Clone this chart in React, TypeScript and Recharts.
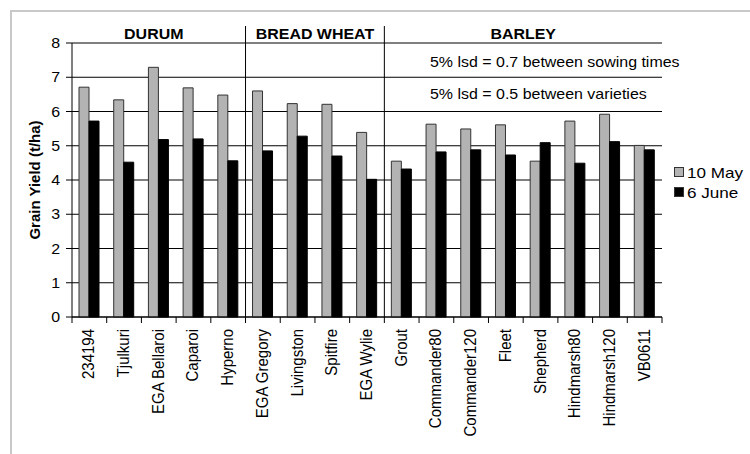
import { BarChart, Bar, XAxis, YAxis, CartesianGrid } from 'recharts';

const varieties = [
  '234194', 'Tjulkuri', 'EGA Bellaroi', 'Caparoi', 'Hyperno',
  'EGA Gregory', 'Livingston', 'Spitfire', 'EGA Wylie',
  'Grout', 'Commander80', 'Commander120', 'Fleet', 'Shepherd',
  'Hindmarsh80', 'Hindmarsh120', 'VB0611',
];
const may10 = [6.71, 6.34, 7.29, 6.69, 6.48, 6.6, 6.23, 6.21, 5.39, 4.55, 5.63, 5.49, 5.61, 4.55, 5.72, 5.92, 5.01];
const june6 = [5.72, 4.52, 5.18, 5.2, 4.56, 4.85, 5.28, 4.7, 4.02, 4.32, 4.82, 4.88, 4.73, 5.09, 4.49, 5.12, 4.88];
const groupNames = ['DURUM', 'BREAD WHEAT', 'BARLEY'];
const groupSizes = [5, 4, 8];
const yTicks = [0, 1, 2, 3, 4, 5, 6, 7, 8];
const lsdNotes = ['5% lsd = 0.7 between sowing times', '5% lsd = 0.5 between varieties'];
const seriesNames = ['10 May', '6 June'];

const data = varieties.map((name, i) => ({ name, may: may10[i], june: june6[i] }));

const W = 750;
const H = 454;
const MARGIN = { top: 43, right: 88, left: 12, bottom: 0 };
const Y_AXIS_W = 60;
const X_AXIS_H = 137;
const AXIS_Y = H - MARGIN.bottom - X_AXIS_H;
const PLOT_W = W - MARGIN.left - MARGIN.right - Y_AXIS_W;
const SX = 1.14; // the source image is stretched sideways
const FONT = '"Liberation Sans", Arial, sans-serif';
const GRAY = '#b3b3b3';

// group start index -> group number
const groupStarts: Record<number, number> = {};
groupSizes.reduce((start, size, g) => {
  groupStarts[start] = g;
  return start + size;
}, 0);

function XTick(props: any) {
  const { x, payload, index } = props;
  const half = payload?.offset ?? PLOT_W / varieties.length / 2;
  const left = x - half;
  const g = groupStarts[index];
  return (
    <g>
      <line x1={left} x2={left} y1={AXIS_Y} y2={AXIS_Y + 6} stroke="#000" />
      {index === varieties.length - 1 && (
        <line x1={x + half} x2={x + half} y1={AXIS_Y} y2={AXIS_Y + 6} stroke="#000" />
      )}
      {g !== undefined && g > 0 && (
        <line x1={left} x2={left} y1={26} y2={AXIS_Y} stroke="#000" />
      )}
      {g !== undefined && (
        <text
          transform={`translate(${left + groupSizes[g] * half - (g === 0 ? 5 : 0)},39) scale(${SX},1)`}
          textAnchor="middle" fontSize={14} fontWeight="bold" fontFamily={FONT} fill="#000"
        >
          {groupNames[g]}
        </text>
      )}
      <text
        transform={`translate(${x + 5},${AXIS_Y + 12}) scale(${SX},1) rotate(-90)`}
        textAnchor="end" fontSize={15} fontFamily={FONT} fill="#000"
      >
        {payload.value}
      </text>
    </g>
  );
}

function YTick(props: any) {
  const { x, y, payload } = props;
  return (
    <text
      transform={`translate(${x},${y + 5}) scale(${SX},1)`}
      textAnchor="end" fontSize={14} fontFamily={FONT} fill="#000"
    >
      {payload.value}
    </text>
  );
}

function LegendBox() {
  const fills = [GRAY, '#000'];
  return (
    <div style={{ position: 'absolute', left: 674, top: 162, fontFamily: FONT, fontSize: 15, color: '#000' }}>
      {seriesNames.map((s, i) => (
        <div key={s} style={{ display: 'flex', alignItems: 'center', height: 20 }}>
          <span
            style={{
              width: 8, height: 8, background: fills[i], border: '1px solid #333',
              marginRight: 3, display: 'inline-block',
            }}
          />
          <span style={{ display: 'inline-block', transform: `scaleX(${SX})`, transformOrigin: 'left center' }}>{s}</span>
        </div>
      ))}
    </div>
  );
}

export default function App() {
  return (
    <div style={{ position: 'fixed', left: 0, top: 0, width: W, height: H, background: '#fff', overflow: 'hidden' }}>
      <div
        style={{
          position: 'absolute', left: 10, top: 10, width: W, height: H,
          borderTop: '2px solid #c8c8c8', borderLeft: '2px solid #c8c8c8',
        }}
      />
      <div style={{ position: 'absolute', left: 0, top: 0 }}>
        <BarChart width={W} height={H} data={data} margin={MARGIN} barGap={0} barSize={10}>
          <CartesianGrid vertical={false} stroke="#000" strokeWidth={1} />
          <XAxis
            dataKey="name" height={X_AXIS_H} interval={0}
            axisLine={{ stroke: '#000' }} tickLine={false} tick={<XTick />}
          />
          <YAxis
            width={Y_AXIS_W} domain={[0, 8]} ticks={yTicks} interval={0}
            axisLine={{ stroke: '#000' }} tickLine={{ stroke: '#000' }}
            tickSize={6} tickMargin={6} tick={<YTick />}
          />
          <Bar dataKey="may" name={seriesNames[0]} fill={GRAY} stroke="#333" strokeWidth={1} isAnimationActive={false} />
          <Bar dataKey="june" name={seriesNames[1]} fill="#000" stroke="#000" strokeWidth={1} isAnimationActive={false} />
        </BarChart>
      </div>
      <LegendBox />
      <svg width={W} height={H} style={{ position: 'absolute', left: 0, top: 0, pointerEvents: 'none' }}>
        <text
          transform={`translate(40,180) rotate(-90)`}
          textAnchor="middle" fontSize={15} fontWeight="bold" fontFamily={FONT} fill="#000"
        >
          Grain Yield (t/ha)
        </text>
        {lsdNotes.map((n, i) => (
          <text
            key={n}
            transform={`translate(430,${67 + i * 32}) scale(${SX},1)`}
            fontSize={14} fontFamily={FONT} fill="#000"
          >
            {n}
          </text>
        ))}
      </svg>
    </div>
  );
}
